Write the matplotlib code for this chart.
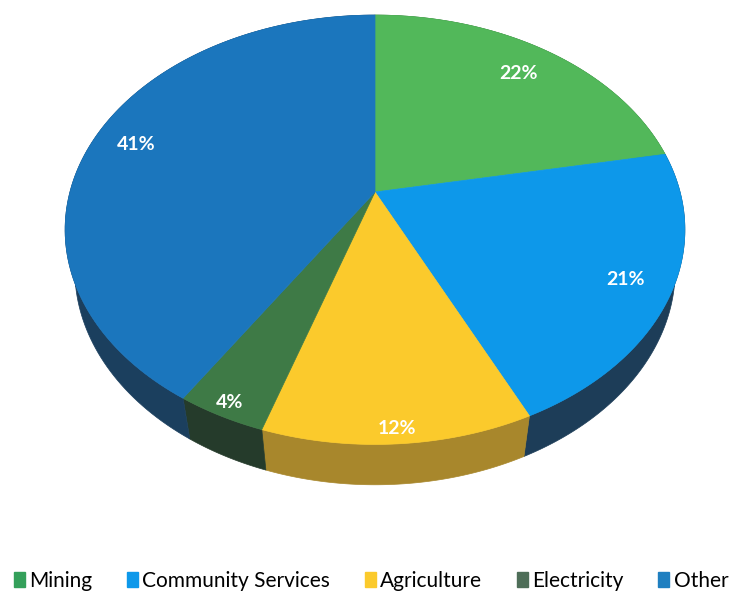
import numpy as np
import matplotlib.pyplot as plt
from matplotlib.patches import Polygon, Patch

plt.rcParams["font.family"] = ["Lato", "DejaVu Sans"]

labels = ["Mining", "Community Services", "Agriculture", "Electricity", "Other"]
shares = [22, 21, 12, 4, 41]
top_colors = ["#52b85a", "#0d98ea", "#fbca2c", "#3e7a46", "#1b76bd"]
side_colors = ["#2f6a34", "#1d3d58", "#a8872c", "#253b2b", "#1b3f5e"]
legend_colors = ["#34a05a", "#0d98ea", "#fbca2c", "#4e6e58", "#1f7fc0"]
# how far out along the radius each percentage sits
label_r = [0.82, 0.86, 0.95, 0.95, 0.85]

# camera for the tilted disc (pixel units)
cx, cy = 375, 192
focal = 1269
dist = 4.16
elev = np.radians(43)
thick = 0.19


def project(x, y, z):
    s, c = np.sin(elev), np.cos(elev)
    depth = dist + y * c - z * s
    up = z * c + y * s
    return cx + focal * x / depth, cy - focal * up / depth


def rim(a0, a1, r=1.0, z=0.0):
    t = np.linspace(a0, a1, 120)
    px, py = project(r * np.sin(t), r * np.cos(t), z)
    return np.column_stack([px, py])


fig = plt.figure(figsize=(7.3, 6), dpi=100)
ax = fig.add_axes([0, 0, 1, 1])
ax.set_xlim(0, 730)
ax.set_ylim(600, 0)
ax.axis("off")

bounds = np.concatenate([[0], np.cumsum(shares)]) / sum(shares) * 2 * np.pi

# outer walls first, tops drawn over them
for i in range(len(shares)):
    a0, a1 = bounds[i], bounds[i + 1]
    top = rim(a0, a1)
    bottom = rim(a0, a1, z=-thick)
    wall = np.vstack([top, bottom[::-1]])
    ax.add_patch(Polygon(wall, closed=True, facecolor=side_colors[i],
                         edgecolor=side_colors[i], lw=0.5, zorder=1))

for i in range(len(shares)):
    a0, a1 = bounds[i], bounds[i + 1]
    apex = np.array(project(0.0, 0.0, 0.0)).reshape(1, 2)
    face = np.vstack([apex, rim(a0, a1)])
    ax.add_patch(Polygon(face, closed=True, facecolor=top_colors[i],
                         edgecolor=top_colors[i], lw=0.5, zorder=2))
    mid = (a0 + a1) / 2
    lx, ly = project(label_r[i] * np.sin(mid), label_r[i] * np.cos(mid), 0.0)
    ax.text(lx, ly, "%d%%" % shares[i], color="white", fontsize=14,
            fontweight="bold", ha="center", va="center", zorder=3)

handles = [Patch(facecolor=c, edgecolor=c) for c in legend_colors]
ax.legend(handles, labels, loc="center", bbox_to_anchor=(0.508, 0.032),
          ncol=5, frameon=False, fontsize=15, handlelength=0.55,
          handleheight=0.75, handletextpad=0.2, columnspacing=1.65)

fig.savefig("out.png", dpi=100)
